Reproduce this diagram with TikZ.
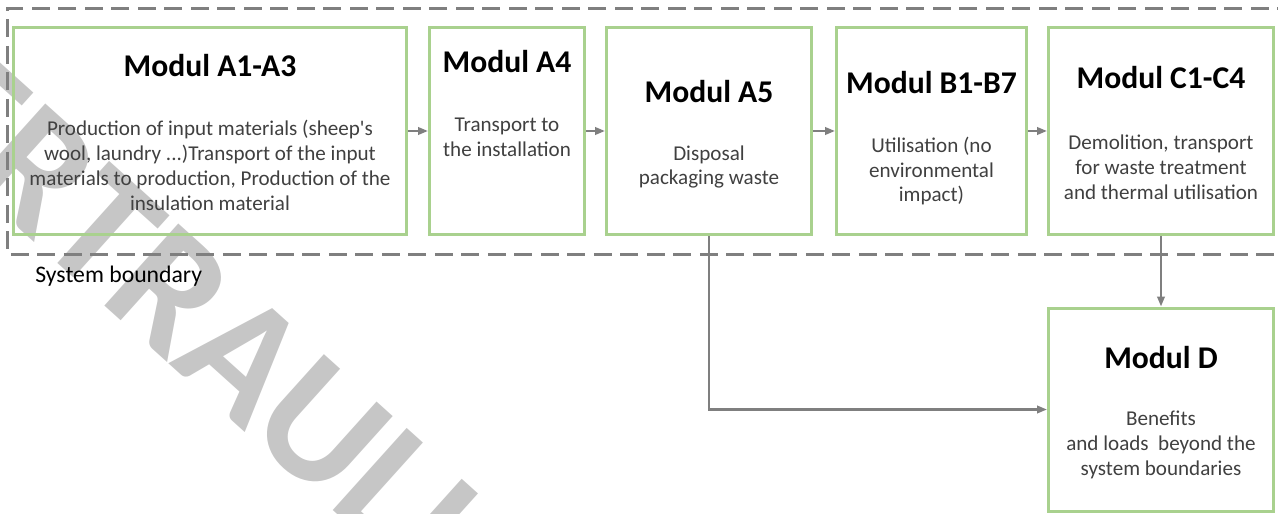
\documentclass[tikz,border=0pt]{standalone}
\usepackage{fontspec}
\setmainfont{Carlito}
\usepackage{tikz}
\usetikzlibrary{arrows.meta}
\definecolor{boxgreen}{RGB}{169,209,142}
\definecolor{flowgray}{RGB}{127,127,127}
\definecolor{textgray}{RGB}{64,64,64}
\definecolor{markgray}{RGB}{198,198,198}

\begin{document}
\begin{tikzpicture}[
	modul/.style={draw=boxgreen, line width=0.06cm, minimum height=4.14cm, inner sep=0pt},
	titel/.style={font=\fontsize{18}{21}\selectfont\bfseries, inner sep=0pt},
	inhalt/.style={font=\fontsize{12}{14.2}\selectfont, text=textgray, align=center, inner sep=0pt},
	fluss/.style={draw=flowgray, line width=0.045cm, -{Triangle[length=0.2cm,width=0.15cm]}}
]
	\useasboundingbox (0,0) rectangle (25.56,-10.28);
	\begin{scope}
		\clip (0,0) rectangle (25.56,-10.28);
		\node[text=markgray, rotate=-42, font=\fontsize{97}{97}\selectfont\bfseries, inner sep=0pt] (stempel) at (4.62,-6.90) {VERTRAULICH};
	\end{scope}
	\draw[flowgray, line width=0.05cm, dash pattern=on 0.36cm off 0.17cm] (25.9,-0.17) -- (0.15,-0.17) -- (0.15,-5.09) -- (25.9,-5.09);
	\node[font=\fontsize{13.5}{15}\selectfont, anchor=west, inner sep=0pt] (grenze) at (0.70,-5.53) {System boundary};

	\node[modul, minimum width=7.86cm] (a13) at (4.20,-2.62) {};
	\node[modul, minimum width=3.10cm] (a4) at (10.14,-2.62) {};
	\node[modul, minimum width=4.10cm] (a5) at (14.18,-2.62) {};
	\node[modul, minimum width=3.80cm] (b17) at (18.63,-2.62) {};
	\node[modul, minimum width=4.50cm] (c14) at (23.22,-2.62) {};
	\node[modul, minimum width=4.50cm, minimum height=4.06cm] (d) at (23.22,-8.19) {};

	\node[titel] (a13titel) at (4.20,-1.32) {Modul A1-A3};
	\node[titel] (a4titel) at (10.14,-1.24) {Modul A4};
	\node[titel] (a5titel) at (14.18,-1.84) {Modul A5};
	\node[titel] (b17titel) at (18.63,-1.65) {Modul B1-B7};
	\node[titel] (c14titel) at (23.22,-1.56) {Modul C1-C4};
	\node[titel] (dtitel) at (23.22,-7.16) {Modul D};

	\node[inhalt] (a13text) at (4.20,-3.30) {Production of input materials (sheep\textquotesingle s\\wool, laundry ...)Transport of the input\\materials to production, Production of the\\insulation material};
	\node[inhalt] (a4text) at (10.14,-2.74) {Transport to\\the installation};
	\node[inhalt] (a5text) at (14.18,-3.34) {Disposal\\packaging waste};
	\node[inhalt] (b17text) at (18.63,-3.42) {Utilisation (no\\environmental\\impact)};
	\node[inhalt] (c14text) at (23.22,-3.34) {Demolition, transport\\for waste treatment\\and thermal utilisation};
	\node[inhalt] (dtext) at (23.22,-8.90) {Benefits\\and loads\ \ beyond the\\system boundaries};

	\draw[fluss] (a13) -- (a4);
	\draw[fluss] (a4) -- (a5);
	\draw[fluss] (a5) -- (b17);
	\draw[fluss] (b17) -- (c14);
	\draw[fluss] (c14) -- (d);
	\draw[fluss] (a5.south) |- (d.west);
\end{tikzpicture}
\end{document}
